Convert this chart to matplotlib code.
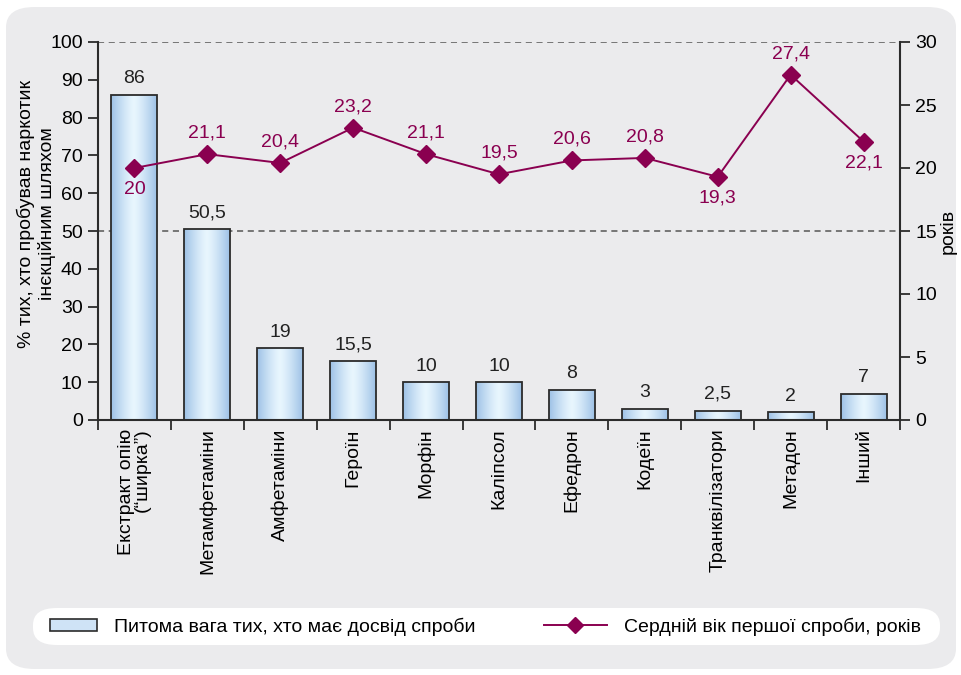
import matplotlib
matplotlib.use('Agg')
import matplotlib.pyplot as plt
import numpy as np
from matplotlib.patches import FancyBboxPatch, Patch
from matplotlib.lines import Line2D
from matplotlib import font_manager

names = {f.name for f in font_manager.fontManager.ttflist}
base = 'Liberation Sans Narrow' if 'Liberation Sans Narrow' in names else 'Liberation Sans'
plt.rcParams['font.family'] = [base, 'DejaVu Sans']
FS = 16 if base == 'Liberation Sans Narrow' else 14

categories = ['Екстракт опію\n(“ширка”)', 'Метамфетаміни', 'Амфетаміни', 'Героїн', 'Морфін',
              'Каліпсол', 'Ефедрон', 'Кодеїн', 'Транквілізатори', 'Метадон', 'Інший']
share = [86, 50.5, 19, 15.5, 10, 10, 8, 3, 2.5, 2, 7]
age = [20, 21.1, 20.4, 23.2, 21.1, 19.5, 20.6, 20.8, 19.3, 27.4, 22.1]
age_below = [True, False, False, False, False, False, False, False, True, False, True]

bar_label = 'Питома вага тих, хто має досвід спроби'
line_label = 'Сердній вік першої спроби, років'
left_ylabel = '% тих, хто пробував наркотик\nінєкційним шляхом'
right_ylabel = 'років'

line_color = '#8a0050'
axis_color = '#2b2b2b'
panel_color = '#ebebed'

def fmt(v):
    return ('%g' % v).replace('.', ',')

fig = plt.figure(figsize=(9.61, 6.75), dpi=100)
fig.patch.set_facecolor('white')

# rounded grey panel and white legend strip
panel = FancyBboxPatch((6 / 961, 6 / 675), 950 / 961, 662 / 675,
                       boxstyle='round,pad=0,rounding_size=0.03',
                       transform=fig.transFigure, facecolor=panel_color,
                       edgecolor='none', zorder=-2)
fig.patches.append(panel)
strip = FancyBboxPatch((33 / 961, 30 / 675), 907 / 961, 37 / 675,
                       boxstyle='round,pad=0,rounding_size=0.025',
                       transform=fig.transFigure, facecolor='white',
                       edgecolor='none', zorder=-1)
fig.patches.append(strip)

ax = fig.add_axes([98 / 961, 1 - 420 / 675, 802 / 961, 378 / 675])
ax.set_facecolor('none')
x = np.arange(len(categories))

# gradient bars
bars = ax.bar(x, share, width=0.63, facecolor='none', edgecolor=axis_color, linewidth=1.3, zorder=3)
grad = np.linspace(-1, 1, 200)
grad = (1 - np.abs(grad) ** 1.3).reshape(1, -1)
cmap = matplotlib.colors.LinearSegmentedColormap.from_list('b', ['#9dc1e6', '#e8f6fe'])
for b in bars:
    x0, w, h = b.get_x(), b.get_width(), b.get_height()
    im = ax.imshow(grad, extent=(x0, x0 + w, 0, h), aspect='auto', cmap=cmap,
                   origin='lower', zorder=2, interpolation='bilinear')
    im.set_clip_path(b)
for xi, v in zip(x, share):
    ax.text(xi, v + 2, fmt(v), ha='center', va='bottom', fontsize=FS, color='#222222', zorder=5)

ax.set_xlim(-0.5, len(categories) - 0.5)
ax.set_ylim(0, 100)
ax.set_yticks(range(0, 101, 10))
ax.set_xticks(x)
ax.set_xticklabels(categories, rotation=90, fontsize=FS, va='top', ha='center', linespacing=0.9)
ax.get_xticklabels()[0].set_multialignment('right')
ax.set_xticks(np.arange(-0.5, len(categories), 1), minor=True)
ax.tick_params(axis='x', which='major', length=0, pad=6)
ax.tick_params(axis='x', which='minor', length=7, width=1.3, color=axis_color, direction='out')
ax.tick_params(axis='y', labelsize=FS, length=7, width=1.3, color=axis_color, pad=4)
for y in [50, 100]:
    ax.axhline(y, color='#555555', linestyle=(0, (4, 3)), linewidth=1.1, zorder=1)
for s in ['left', 'bottom']:
    ax.spines[s].set_color(axis_color)
    ax.spines[s].set_linewidth(1.5)
ax.spines['top'].set_visible(False)
ax.spines['right'].set_visible(False)
ax.set_ylabel(left_ylabel, fontsize=FS, linespacing=1.2)
ax.yaxis.set_label_coords(-0.052, 0.545)

ax2 = ax.twinx()
ax2.plot(x, age, color=line_color, linewidth=1.4, marker='D', markersize=9.5, zorder=4)
ax2.set_ylim(0, 30)
ax2.set_yticks(range(0, 31, 5))
ax2.tick_params(axis='y', labelsize=FS, length=7, width=1.3, color=axis_color, pad=4)
for s in ['left', 'top', 'bottom']:
    ax2.spines[s].set_visible(False)
ax2.spines['right'].set_color(axis_color)
ax2.spines['right'].set_linewidth(1.5)
ax2.set_ylabel(right_ylabel, fontsize=FS, labelpad=2)
for xi, v, below in zip(x, age, age_below):
    if below:
        ax2.text(xi, v - 1.0, fmt(v), ha='center', va='top', fontsize=FS, color=line_color)
    else:
        ax2.text(xi, v + 1.0, fmt(v), ha='center', va='bottom', fontsize=FS, color=line_color)

leg1 = fig.legend([Patch(facecolor='#cfe3f6', edgecolor=axis_color, linewidth=1.2)], [bar_label],
                  loc='center left', bbox_to_anchor=(50 / 961, 48.5 / 675), frameon=False,
                  fontsize=FS, handlelength=2.4, handleheight=0.6, handletextpad=0.9,
                  borderaxespad=0, borderpad=0)
leg2 = fig.legend([Line2D([], [], color=line_color, marker='D', markersize=8.5, linewidth=1.4)], [line_label],
                  loc='center right', bbox_to_anchor=(921 / 961, 48.5 / 675), frameon=False,
                  fontsize=FS, handlelength=3.2, handletextpad=0.9, borderaxespad=0, borderpad=0)

fig.savefig('out.png', dpi=100, facecolor=fig.get_facecolor())
